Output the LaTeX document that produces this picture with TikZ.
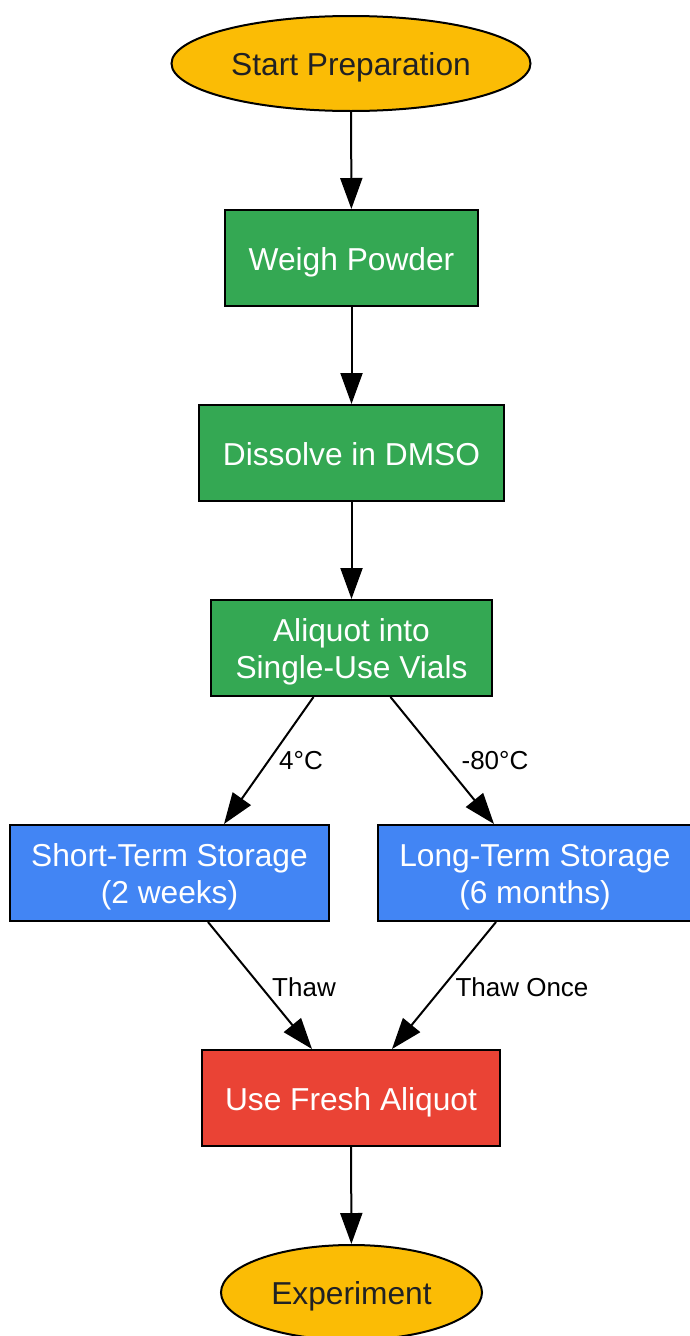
\documentclass[tikz,border=0pt]{standalone}
\usepackage{fontspec}
\setmainfont{Liberation Sans}
\usetikzlibrary{shapes.geometric,arrows.meta}
\definecolor{gyellow}{HTML}{FBBC05}
\definecolor{ggreen}{HTML}{34A853}
\definecolor{gblue}{HTML}{4285F4}
\definecolor{gred}{HTML}{EA4335}
\definecolor{gtext}{HTML}{202124}
\newcommand{\shiftdown}[1]{\raisebox{-5pt}[\height][\depth]{\begin{tabular}{@{}c@{}}#1\end{tabular}}}
\tikzset{
  term/.style={ellipse, draw=black, line width=2pt, fill=gyellow, text=gtext, inner sep=0pt,
    font=\fontsize{31.7}{37}\selectfont},
  box/.style={rectangle, draw=black, line width=2pt, text=white, inner sep=0pt, align=center,
    minimum height=96pt, font=\fontsize{31.7}{37}\selectfont},
  edge/.style={line width=2pt, -{Triangle[length=31pt,width=22pt]}},
  elabel/.style={font=\fontsize{26}{30}\selectfont, text=black, inner sep=0pt},
}
\begin{document}
\begin{tikzpicture}[x=1pt,y=-1pt]
\useasboundingbox (0,0) rectangle (690,1336);
\node[term, minimum width=359pt, minimum height=95pt] (start) at (351,63.5) {\shiftdown{Start Preparation}};
\node[box, fill=ggreen, minimum width=253pt] (weigh) at (351.5,258) {\shiftdown{Weigh Powder}};
\node[box, fill=ggreen, minimum width=305pt] (diss) at (351.5,453) {\shiftdown{Dissolve in DMSO}};
\node[box, fill=ggreen, minimum width=281pt] (aliq) at (351.5,648) {\shiftdown{Aliquot into\\Single-Use Vials}};
\node[box, fill=gblue, minimum width=319pt] (short) at (169.5,873) {\shiftdown{Short-Term Storage\\(2 weeks)}};
\node[box, fill=gblue, minimum width=314pt] (long) at (535,873) {\shiftdown{Long-Term Storage\\(6 months)}};
\node[box, fill=gred, minimum width=298pt] (use) at (351,1098) {\shiftdown{Use Fresh Aliquot}};
\node[term, minimum width=261pt, minimum height=95pt] (exp) at (351.5,1292.5) {\shiftdown{Experiment}};

\draw[edge] (start) -- (weigh);
\draw[edge] (weigh) -- (diss);
\draw[edge] (diss) -- (aliq);
\draw[edge] ([xshift=-38pt]aliq.south) -- ([xshift=54.5pt]short.north);
\draw[edge] ([xshift=39pt]aliq.south) -- ([xshift=-41pt]long.north);
\draw[edge] ([xshift=38.5pt]short.south) -- ([xshift=-39pt]use.north);
\draw[edge] ([xshift=-39pt]long.south) -- ([xshift=41pt]use.north);
\draw[edge] (use) -- (exp);

\node[elabel] (l1) at (301,761) {4°C};
\node[elabel] (l2) at (495,761) {-80°C};
\node[elabel] (l3) at (304,987) {Thaw};
\node[elabel] (l4) at (522,987) {Thaw Once};
\end{tikzpicture}
\end{document}
